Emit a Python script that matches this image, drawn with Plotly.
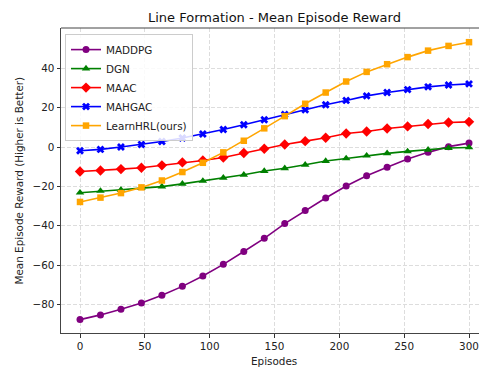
import plotly.graph_objects as go

episodes = [0, 15.79, 31.58, 47.37, 63.16, 78.95, 94.74, 110.53, 126.32, 142.11,
            157.89, 173.68, 189.47, 205.26, 221.05, 236.84, 252.63, 268.42, 284.21, 300]

maddpg = [-87.7, -85.3, -82.4, -79.2, -75.3, -70.8, -65.5, -59.6, -53.1, -46.4,
          -38.9, -32.3, -25.9, -19.8, -14.6, -10.3, -6.1, -2.7, 0.2, 2.0]
dgn = [-23.2, -22.3, -21.7, -20.9, -20.1, -18.7, -17.2, -15.6, -14.1, -12.2,
       -10.8, -9.0, -7.1, -5.8, -4.4, -3.2, -2.2, -1.4, -0.5, -0.2]
maac = [-12.4, -11.9, -11.2, -10.5, -9.3, -7.8, -6.8, -5.3, -3.0, -0.9,
        1.3, 3.0, 4.7, 6.9, 7.9, 9.4, 10.5, 11.7, 12.5, 12.8]
mahgac = [-1.9, -1.2, 0.0, 1.3, 2.8, 4.6, 6.6, 8.9, 11.3, 13.9,
          16.5, 18.9, 21.5, 23.7, 26.0, 27.7, 29.2, 30.6, 31.5, 32.1]
learnhrl = [-27.9, -25.7, -23.4, -20.5, -17.0, -12.7, -8.0, -2.7, 3.2, 9.5,
            15.7, 22.0, 27.7, 33.3, 38.2, 42.1, 45.7, 49.0, 51.4, 53.3]

series = [
    ("MADDPG", maddpg, "purple", "circle", 7),
    ("DGN", dgn, "green", "triangle-up", 7.5),
    ("MAAC", maac, "red", "diamond", 8),
    ("MAHGAC", mahgac, "blue", "x", 7),
    ("LearnHRL(ours)", learnhrl, "orange", "square", 6.5),
]

x_ticks = [0, 50, 100, 150, 200, 250, 300]
y_ticks = [-80, -60, -40, -20, 0, 20, 40]

font_family = "DejaVu Sans"

fig = go.Figure()
for name, vals, color, sym, size in series:
    fig.add_trace(go.Scatter(
        x=episodes, y=vals, name=name, mode="lines+markers",
        line=dict(color=color, width=1.6),
        marker=dict(color=color, symbol=sym, size=size, line=dict(width=0)),
    ))

grid_kw = dict(showgrid=True, gridcolor="#dddddd", griddash="4px,2px", gridwidth=0.8,
               zeroline=False, ticks="outside", ticklen=3.5, tickwidth=0.8,
               tickcolor="#333", showline=True, linecolor="#444", linewidth=1,
               automargin=False,
               tickfont=dict(family=font_family, size=10.4, color="#222"))

fig.update_layout(
    width=480, height=368,
    margin=dict(l=61, r=1, t=28, b=35, autoexpand=False),
    paper_bgcolor="white", plot_bgcolor="white",
    font=dict(family=font_family, size=10.4, color="#222"),
    showlegend=True,
    legend=dict(x=0.0096, y=0.98, xanchor="left", yanchor="top",
                bgcolor="rgba(255,255,255,0.85)", bordercolor="#cccccc", borderwidth=1,
                font=dict(family=font_family, size=10.4, color="#222"),
                tracegroupgap=0, itemwidth=30),
    xaxis=dict(range=[-14.65, 307.7], tickvals=x_ticks, mirror=False, **grid_kw),
    yaxis=dict(range=[-94.5, 60.5], tickvals=y_ticks, **grid_kw),
    shapes=[dict(type="line", xref="paper", yref="paper", x0=0, x1=1, y0=1, y1=1,
                 line=dict(color="#444", width=1))],
    annotations=[
        dict(text="Line Formation - Mean Episode Reward", xref="paper", yref="paper",
             x=(274 - 61) / 418, y=1, yshift=11, xanchor="center", yanchor="middle",
             showarrow=False, font=dict(family=font_family, size=13, color="#111")),
        dict(text="Episodes", xref="paper", yref="paper",
             x=(274 - 61) / 418, y=0, yshift=-28, xanchor="center", yanchor="middle",
             showarrow=False, font=dict(family=font_family, size=10.4, color="#222")),
        dict(text="Mean Episode Reward (Higher is Better)", xref="paper", yref="paper",
             x=0, xshift=-43, y=0.5, xanchor="center", yanchor="middle", textangle=-90,
             showarrow=False, font=dict(family=font_family, size=10.4, color="#222")),
    ],
)

fig.write_html("out.html",
               config={"displayModeBar": False},
               post_script="document.body.style.margin='0';document.body.style.padding='0';")
